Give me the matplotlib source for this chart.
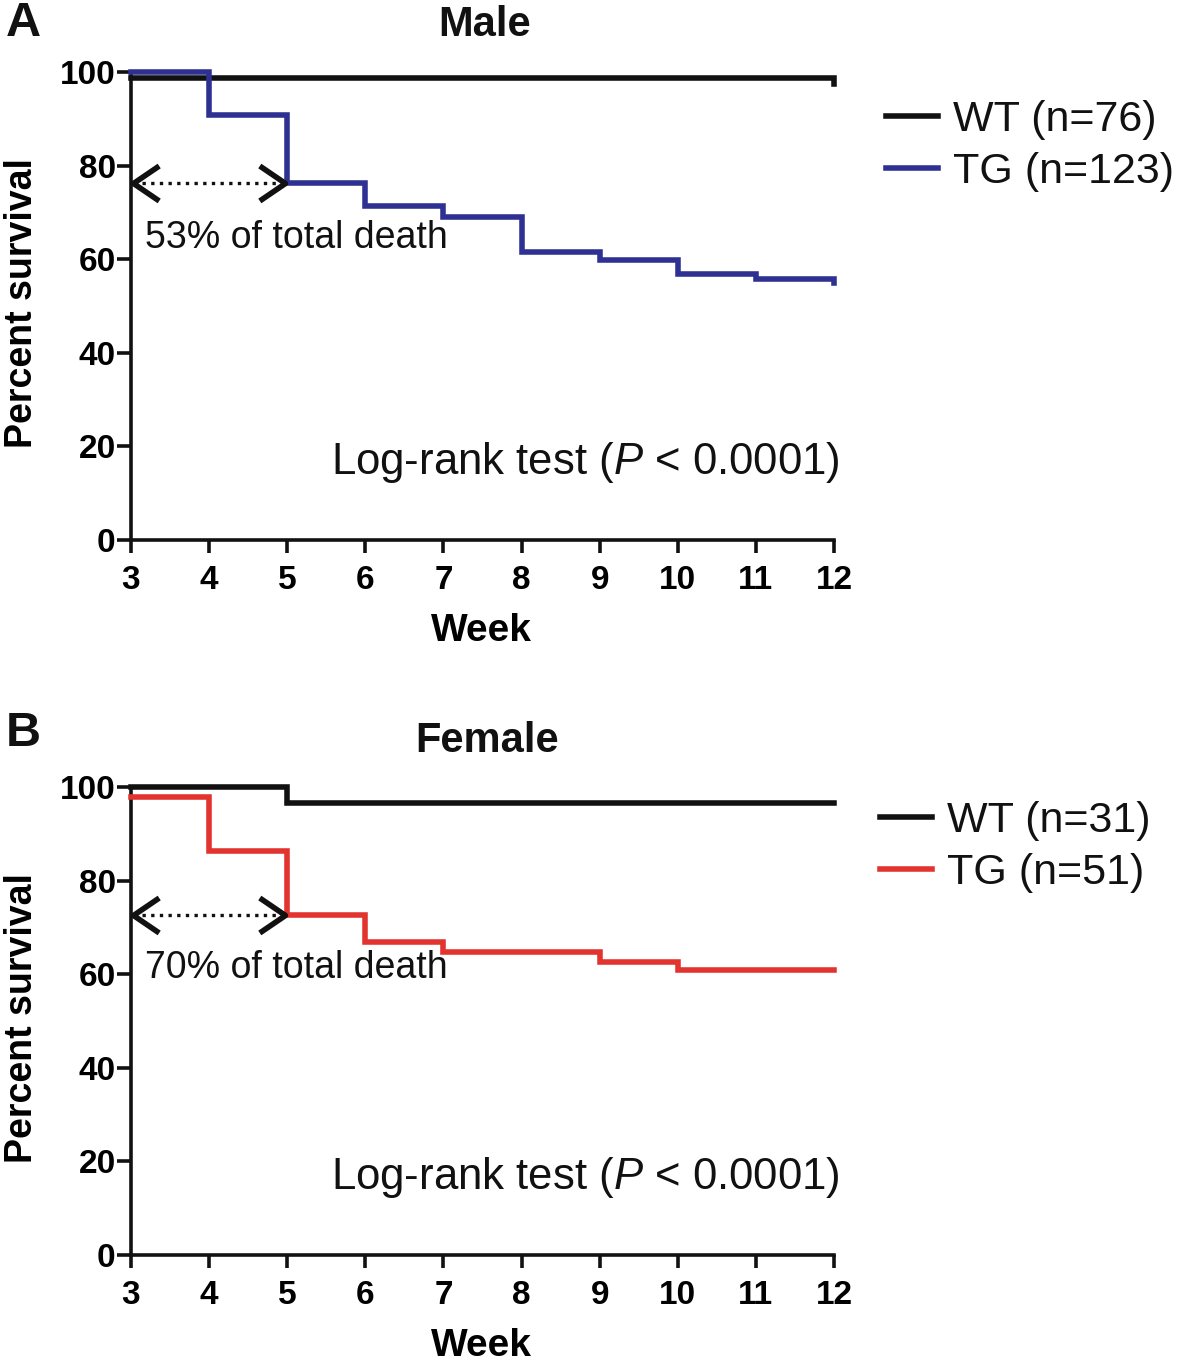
import matplotlib
matplotlib.use("Agg")
import matplotlib.pyplot as plt
from matplotlib.path import Path
from matplotlib.markers import MarkerStyle

plt.rcParams['font.family'] = ['Liberation Sans', 'DejaVu Sans']
plt.rcParams['mathtext.fontset'] = 'custom'
plt.rcParams['mathtext.rm'] = 'Liberation Sans'
plt.rcParams['mathtext.it'] = 'Liberation Sans:italic'

# ---------------- data ----------------
weeks = [3, 4, 5, 6, 7, 8, 9, 10, 11, 12]
yticks = [0, 20, 40, 60, 80, 100]

male_wt_t = [3, 12]
male_wt_s = [98.7, 97.4]
male_tg_t = [3, 4, 5, 6, 7, 8, 9, 10, 11, 12]
male_tg_s = [100, 90.9, 76.3, 71.3, 69.1, 61.5, 59.9, 56.8, 55.8, 55.0]

female_wt_t = [3, 5]
female_wt_s = [100, 96.6]
female_tg_t = [3, 4, 5, 6, 7, 9, 10]
female_tg_s = [97.9, 86.3, 72.7, 66.8, 64.7, 62.7, 60.8]

male_labels = ["WT (n=76)", "TG (n=123)"]
female_labels = ["WT (n=31)", "TG (n=51)"]
male_note = "53% of total death"
female_note = "70% of total death"
logrank = r"Log-rank test ($\it{P}$ < 0.0001)"

BLUE = "#2e3192"
RED = "#e2332f"
END = 12

W, H = 1181, 1362
fig = plt.figure(figsize=(W / 100, H / 100), dpi=100)


def chevron(direction):
    if direction == 'left':
        verts = [(25, 17), (0, 0), (25, -17)]
    else:
        verts = [(-25, 17), (0, 0), (-25, -17)]
    return MarkerStyle(Path(verts, [Path.MOVETO, Path.LINETO, Path.LINETO]),
                       joinstyle='miter', capstyle='butt')


def panel(ax, wt_t, wt_s, tg_t, tg_s, tg_color, labels, note, note_y,
          legend_anchor):
    lw = 4.0
    x = list(wt_t) + [END]
    y = list(wt_s) + [wt_s[-1]]
    l1, = ax.step(x, y, where='post', color='#111111', lw=lw,
                  clip_on=False, zorder=4, solid_joinstyle='miter')
    x = list(tg_t) + [END]
    y = list(tg_s) + [tg_s[-1]]
    l2, = ax.step(x, y, where='post', color=tg_color, lw=lw,
                  clip_on=False, zorder=5, solid_joinstyle='miter')

    ax.set_xlim(3, 12)
    ax.set_ylim(0, 100)
    ax.set_xticks(weeks)
    ax.set_yticks(yticks)
    for s in ['top', 'right']:
        ax.spines[s].set_visible(False)
    for s in ['left', 'bottom']:
        ax.spines[s].set_linewidth(2.6)
        ax.spines[s].set_color('#111111')
    ax.tick_params(axis='x', length=9, width=2.6, pad=9, labelsize=24,
                   color='#111111')
    ax.tick_params(axis='y', length=10, width=2.6, pad=1, labelsize=24,
                   color='#111111')
    for lab in ax.get_xticklabels() + ax.get_yticklabels():
        lab.set_fontweight('bold')

    ax.set_xlabel("Week", fontsize=28, fontweight='bold')
    ax.set_ylabel("Percent survival", fontsize=27, fontweight='bold')
    ax.xaxis.set_label_coords(0.498, -0.155)
    ax.yaxis.set_label_coords(-0.129, 0.506)

    # arrow indicating deaths up to week 5
    i5 = tg_t.index(5)
    ay = tg_s[i5]
    x0, x1 = tg_t[0], tg_t[i5]
    ax.plot([x0 + 0.14, x1 - 0.14], [ay, ay], color='#111111', lw=2.4,
            linestyle=(0, (1, 1.6)), clip_on=False, zorder=6)
    ax.plot([x0 + 0.03], [ay], marker=chevron('left'), ms=37,
            mfc='none', mec='#111111', mew=4.0, clip_on=False, zorder=7)
    ax.plot([x1 - 0.03], [ay], marker=chevron('right'), ms=37,
            mfc='none', mec='#111111', mew=4.0, clip_on=False, zorder=7)
    ax.text(x0 + 0.18, note_y, note, fontsize=27, ha='left', va='center',
            color='#111111')

    ax.text(12.08, 16.5, logrank, fontsize=31.5, ha='right', va='center',
            color='#111111')

    leg = ax.legend([l1, l2], labels, loc='upper left',
                    bbox_to_anchor=legend_anchor,
                    frameon=False, fontsize=31, handlelength=1.2,
                    handletextpad=0.35, labelspacing=0.28, borderpad=0,
                    borderaxespad=0)
    for t in leg.get_texts():
        t.set_color('#111111')
    return ax


ax1 = fig.add_axes([131 / W, 1 - 540 / H, 703 / W, 468 / H])
panel(ax1, male_wt_t, male_wt_s, male_tg_t, male_tg_s, BLUE,
      male_labels, male_note, 64.5, (1.074, 0.94))

ax2 = fig.add_axes([131 / W, 1 - 1255 / H, 703 / W, 468 / H])
panel(ax2, female_wt_t, female_wt_s, female_tg_t, female_tg_s, RED,
      female_labels, female_note, 61.3, (1.066, 0.97))

fig.text(485 / W, 1 - 25 / H, "Male", fontsize=30, fontweight='bold',
         ha='center', va='center', color='#111111')
fig.text(487 / W, 1 - 741 / H, "Female", fontsize=30, fontweight='bold',
         ha='center', va='center', color='#111111')
fig.text(6 / W, 1 - 24 / H, "A", fontsize=35, fontweight='bold',
         ha='left', va='center', color='#111111')
fig.text(6 / W, 1 - 734 / H, "B", fontsize=35, fontweight='bold',
         ha='left', va='center', color='#111111')

fig.savefig("out.png", dpi=100)
